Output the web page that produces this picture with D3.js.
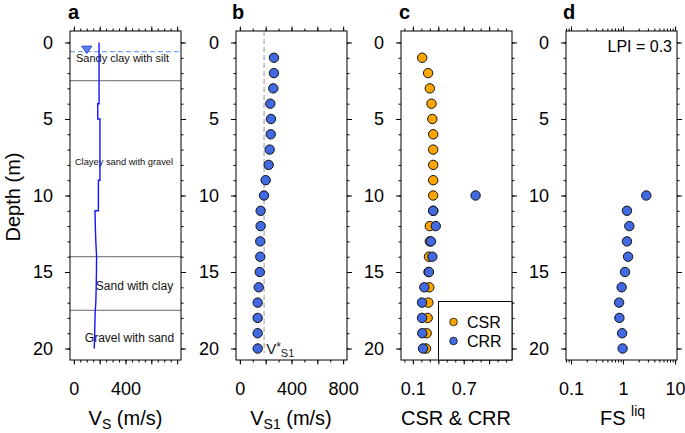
<!DOCTYPE html>
<html><head><meta charset="utf-8">
<script src="https://cdn.jsdelivr.net/npm/d3@7"></script>
<style>body{margin:0;background:#fff} svg{display:block;font-family:"Liberation Sans",Arial,sans-serif}</style>
</head><body><svg id="chart" width="685" height="433"></svg>
<script>
// ---------------- DATA ----------------
const depths = d3.range(1, 21);
const vsDepth = [0, 4, 4, 5, 5, 9, 9, 11, 11, 12, 13, 14, 15, 16, 17, 17.5, 18, 19, 20];
const vsValue = [195, 195, 185, 185, 202, 202, 190, 190, 164, 166, 170, 176, 175, 173, 170, 166, 164, 161, 158];
const layerBounds = [2.5, 14, 17.5];
const layerNames = ["Sandy clay with silt", "Clayey sand with gravel", "Sand with clay", "Gravel with sand"];
const waterTable = 0.6;
const vs1 = [264, 264, 259, 236, 241, 239, 231, 223, 200, 187, 161, 161, 158, 158, 154, 146, 138, 138, 138, 138];
const vStar = 188;
const csr = [0.21, 0.28, 0.30, 0.32, 0.33, 0.34, 0.34, 0.34, 0.34, 0.34, 0.34, 0.30, 0.30, 0.29, 0.285, 0.294, 0.283, 0.275, 0.263, 0.255];
const crrDepths = d3.range(10, 21);
const crr = [0.84, 0.34, 0.37, 0.314, 0.33, 0.29, 0.235, 0.208, 0.208, 0.211, 0.22];
const fs = [2.8, 1.19, 1.32, 1.19, 1.25, 1.09, 0.94, 0.84, 0.85, 0.96, 0.98];
const lpi = 0.3;
const depthTicks = [0, 5, 10, 15, 20];
const vsTickLabels = [0, 400];
const vs1TickLabels = [0, 400, 800];
const crTickLabels = [0.1, 0.7];
const fsTickLabels = [0.1, 1, 10];

// ---------------- LAYOUT ----------------
const svg = d3.select("#chart");
const yTop = 31, yBot = 360;
const blue = "#4169e1", orange = "#ffa500";
const y = d3.scaleLinear().domain([-0.75, 20.75]).range([yTop, yBot]);
const panels = {
  a: [70, 181], b: [236, 347], c: [401, 512], d: [566, 677]
};
const xa = d3.scaleLinear().domain([-30, 830]).range(panels.a);
const xb = d3.scaleLinear().domain([-30, 830]).range(panels.b);
const xc = d3.scaleLinear().domain([-0.04, 1.27]).range(panels.c);
const xd = d3.scaleLog().domain([0.08, 10.9]).range(panels.d);

function styleAxis(g) {
  g.select(".domain").remove();
  g.selectAll("line").attr("stroke", "#000").attr("stroke-width", 1);
  g.selectAll("text").attr("font-size", 18).attr("fill", "#000").attr("font-family", "Liberation Sans, Arial, sans-serif");
}

function drawPanel(xs, major, minor, labels, fmt) {
  const [x0, x1] = xs.range();
  svg.append("g").attr("transform", `translate(${x0},0)`)
    .call(d3.axisLeft(y).tickValues(d3.range(0, 21)).tickSize(2.5).tickFormat("")).call(styleAxis);
  svg.append("g").attr("transform", `translate(${x0},0)`)
    .call(d3.axisLeft(y).tickValues(depthTicks).tickSize(5).tickPadding(12)).call(styleAxis);
  svg.append("g").attr("transform", `translate(${x1},0)`)
    .call(d3.axisRight(y).tickValues(d3.range(0, 21)).tickSize(2.5).tickFormat("")).call(styleAxis);
  svg.append("g").attr("transform", `translate(${x1},0)`)
    .call(d3.axisRight(y).tickValues(depthTicks).tickSize(5).tickFormat("")).call(styleAxis);
  [[d3.axisTop, yTop], [d3.axisBottom, yBot]].forEach(([ax, yy]) => {
    svg.append("g").attr("transform", `translate(0,${yy})`)
      .call(ax(xs).tickValues(minor).tickSize(2.5).tickFormat("")).call(styleAxis);
    svg.append("g").attr("transform", `translate(0,${yy})`)
      .call(ax(xs).tickValues(major).tickSize(4.5).tickFormat("")).call(styleAxis);
  });
  svg.append("g").attr("transform", `translate(0,${yBot})`)
    .call(d3.axisBottom(xs).tickValues(labels).tickSize(0).tickPadding(22).tickFormat(fmt)).call(styleAxis);
  svg.append("rect").attr("x", x0).attr("y", yTop).attr("width", x1 - x0).attr("height", yBot - yTop)
    .attr("fill", "none").attr("stroke", "#000").attr("stroke-width", 1);
}

function letter(t, x) {
  svg.append("text").attr("x", x).attr("y", 18.5).attr("font-size", 20).attr("font-weight", "bold").text(t);
}

// ---------- Panel a ----------
const ga = svg.append("g");
layerBounds.forEach(d => {
  ga.append("line").attr("x1", panels.a[0]).attr("x2", panels.a[1]).attr("y1", y(d)).attr("y2", y(d))
    .attr("stroke", "#555").attr("stroke-width", 0.9);
});
ga.append("line").attr("x1", panels.a[0]).attr("x2", panels.a[1]).attr("y1", y(waterTable)).attr("y2", y(waterTable))
  .attr("stroke", "#7fa6ee").attr("stroke-width", 1.2).attr("stroke-dasharray", "5,3");
const tx = xa(100), ty = y(waterTable);
ga.append("path").attr("d", `M${tx - 5},${ty - 5.5} L${tx + 5},${ty - 5.5} L${tx},${ty + 1.8} Z`)
  .attr("fill", "#5b84f2").attr("stroke", "#2244cc").attr("stroke-width", 1);
const labelPos = [[122.5, 58.5, 11], [124, 162, 9.3], [134.5, 286, 12], [129.5, 338, 12]];
layerNames.forEach((n, i) => {
  ga.append("text").attr("x", labelPos[i][0]).attr("y", labelPos[i][1]).attr("dy", "0.35em")
    .attr("text-anchor", "middle").attr("font-size", labelPos[i][2]).attr("fill", "#111").text(n);
});
const vsLine = d3.line().x((d, i) => xa(vsValue[i])).y(d => y(d));
ga.append("path").datum(vsDepth).attr("d", vsLine).attr("fill", "none").attr("stroke", "#1414ff").attr("stroke-width", 1.4);
drawPanel(xa, d3.range(0, 801, 200), d3.range(0, 826, 50), vsTickLabels, d3.format("d"));
letter("a", 68);

// ---------- Panel b ----------
const gb = svg.append("g");
gb.append("line").attr("x1", xb(vStar)).attr("x2", xb(vStar)).attr("y1", yTop).attr("y2", y(20.3))
  .attr("stroke", "#bbb").attr("stroke-width", 1.5).attr("stroke-dasharray", "5,3");
gb.selectAll("circle").data(depths).join("circle")
  .attr("cx", (d, i) => xb(vs1[i])).attr("cy", d => y(d)).attr("r", 4.7)
  .attr("fill", blue).attr("stroke", "#111").attr("stroke-width", 1);
const vl = gb.append("text").attr("x", xb(vStar) + 2).attr("y", y(20) + 5.5).attr("font-size", 15).attr("fill", "#222");
vl.append("tspan").text("V");
vl.append("tspan").attr("font-size", 12).attr("dy", -3).text("*");
vl.append("tspan").attr("font-size", 11).attr("dy", 6).text("S1");
drawPanel(xb, d3.range(0, 801, 200), d3.range(0, 801, 100), vs1TickLabels, d3.format("d"));
letter("b", 232);

// ---------- Panel c ----------
const gc = svg.append("g");
gc.selectAll("circle.csr").data(depths).join("circle").attr("class", "csr")
  .attr("cx", (d, i) => xc(csr[i])).attr("cy", d => y(d)).attr("r", 4.7)
  .attr("fill", orange).attr("stroke", "#111").attr("stroke-width", 1);
gc.selectAll("circle.crr").data(crrDepths).join("circle").attr("class", "crr")
  .attr("cx", (d, i) => xc(crr[i])).attr("cy", d => y(d)).attr("r", 4.7)
  .attr("fill", blue).attr("stroke", "#111").attr("stroke-width", 1);
drawPanel(xc, [0.1, 0.4, 0.7, 1.0], d3.range(0, 13).map(d => d / 10), crTickLabels, d3.format(".1f"));
const lg = svg.append("g");
lg.append("rect").attr("x", 438.5).attr("y", 301.5).attr("width", panels.c[1] - 438.5).attr("height", yBot - 301.5)
  .attr("fill", "#fff").attr("stroke", "#000").attr("stroke-width", 1);
[["CSR", orange, 322], ["CRR", blue, 341]].forEach(([t, c, yy]) => {
  lg.append("circle").attr("cx", 453.5).attr("cy", yy).attr("r", 3.8).attr("fill", c).attr("stroke", "#111").attr("stroke-width", 0.8);
  lg.append("text").attr("x", 467).attr("y", yy).attr("dy", "0.36em").attr("font-size", 16).text(t);
});
letter("c", 399);

// ---------- Panel d ----------
const gd = svg.append("g");
gd.selectAll("circle").data(crrDepths).join("circle")
  .attr("cx", (d, i) => xd(fs[i])).attr("cy", d => y(d)).attr("r", 4.7)
  .attr("fill", blue).attr("stroke", "#111").attr("stroke-width", 1);
gd.append("text").attr("x", 672).attr("y", 46.5).attr("dy", "0.36em").attr("text-anchor", "end")
  .attr("font-size", 16).text(`LPI = ${lpi}`);
const logMinor = [0.08, 0.09].concat(d3.range(2, 10).map(d => d / 10), d3.range(2, 10), [10]);
drawPanel(xd, [0.1, 1, 10], logMinor, fsTickLabels, d => d3.format("~g")(d));
letter("d", 563);

// ---------- Titles ----------
const titleY = 425;
function title(cx, parts) {
  const t = svg.append("text").attr("x", cx).attr("y", titleY).attr("text-anchor", "middle").attr("font-size", 20);
  parts.forEach(p => {
    const s = t.append("tspan").text(p.t);
    if (p.fs) s.attr("font-size", p.fs);
    if (p.dy) s.attr("dy", p.dy);
  });
}
title(125.5, [{t: "V"}, {t: "S", fs: 14, dy: 4}, {t: " (m/s)", dy: -4}]);
title(291, [{t: "V"}, {t: "S1", fs: 14, dy: 4}, {t: " (m/s)", dy: -4}]);
title(456, [{t: "CSR & CRR"}]);
title(622.5, [{t: "FS "}, {t: "liq", fs: 14, dy: -9}]);
svg.append("text").attr("transform", "translate(13,197) rotate(-90)").attr("text-anchor", "middle")
  .attr("dy", "0.35em").attr("font-size", 20).text("Depth (m)");
</script></body></html>
